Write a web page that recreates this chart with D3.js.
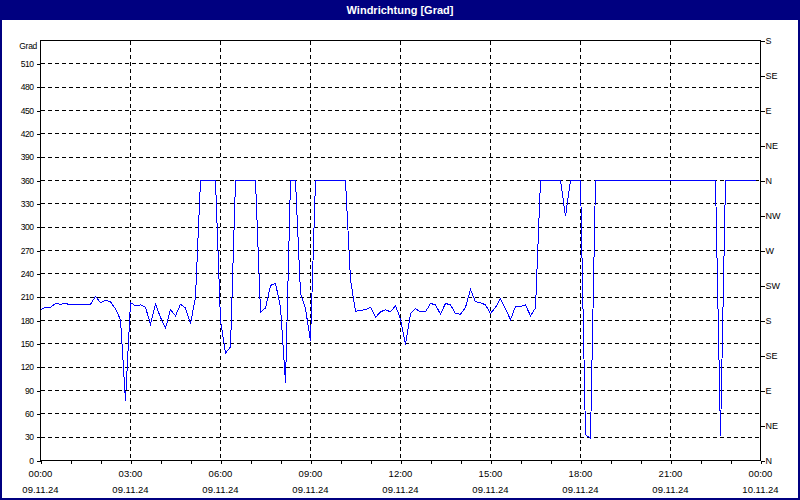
<!DOCTYPE html>
<html>
<head>
<meta charset="utf-8">
<script src="https://cdn.jsdelivr.net/npm/d3@7"></script>
<style>
  html, body { margin: 0; padding: 0; background: #ffffff; }
  svg { display: block; }
  text { font-family: "Liberation Sans", Arial, sans-serif; fill: #000; }
</style>
</head>
<body>
<svg id="chart" width="800" height="500"></svg>
<script>
// ---- data ----
const title = "Windrichtung [Grad]";
const yUnit = "Grad";
const times = ["00:00","00:10","00:20","00:30","00:40","00:50","01:00","01:10","01:20","01:30","01:40","01:50",
  "02:00","02:10","02:20","02:30","02:40","02:50","03:00","03:10","03:20","03:30","03:40","03:50",
  "04:00","04:10","04:20","04:30","04:40","04:50","05:00","05:10","05:20","05:50",
  "06:00","06:10","06:20","06:30","07:10","07:20","07:30","07:40","07:50",
  "08:00","08:10","08:20","08:30","08:40","08:50","09:00","09:10","10:10","10:20","10:30","10:40","10:50",
  "11:00","11:10","11:20","11:30","11:40","11:50","12:00","12:10","12:20","12:30","12:40","12:50",
  "13:00","13:10","13:20","13:30","13:40","13:50","14:00","14:10","14:20","14:30","14:40","14:50",
  "15:00","15:10","15:20","15:30","15:40","15:50","16:00","16:10","16:20","16:30","16:40","17:20","17:30",
  "17:40","18:00","18:10","18:20","18:30","22:30","22:40","22:50","23:50"];
const direction = [194,197,197,202,201,202,200,201,201,201,201,211,
  203,206,204,195,181,77,203,199,200,197,175,201,
  184,170,194,186,201,196,176,210,360,360,
  180,138,146,360,360,191,196,225,228,
  197,100,360,360,215,195,154,360,360,232,192,193,194,
  197,184,191,194,191,199,182,149,189,195,191,191,
  202,200,188,202,200,189,188,197,220,204,203,200,
  189,197,208,195,181,198,198,200,186,196,360,360,314,
  360,360,33,29,360,360,32,360,360];
const yTicks = [0,30,60,90,120,150,180,210,240,270,300,330,360,390,420,450,480,510];
const compassTicks = [0,45,90,135,180,225,270,315,360,405,450,495,540];
const compassLabels = ["N","NE","E","SE","S","SW","W","NW","N","NE","E","SE","S"];
const hourTicks = ["00:00","01:00","02:00","03:00","04:00","05:00","06:00","07:00","08:00","09:00","10:00","11:00",
  "12:00","13:00","14:00","15:00","16:00","17:00","18:00","19:00","20:00","21:00","22:00","23:00","24:00"];
const labelTimes = ["00:00","03:00","06:00","09:00","12:00","15:00","18:00","21:00","24:00"];
const labelTimeText = ["00:00","03:00","06:00","09:00","12:00","15:00","18:00","21:00","00:00"];
const labelDates = ["09.11.24","09.11.24","09.11.24","09.11.24","09.11.24","09.11.24","09.11.24","09.11.24","10.11.24"];

// ---- drawing ----
(function () {
const toMin = s => { const [h, m] = s.split(":").map(Number); return h * 60 + m; };
const svg = d3.select("#chart");
const W = 800, H = 500;
const pL = 40.5, pR = 760.5, pT = 40.5, pB = 460.5;
const navy = "#000080";

svg.append("rect").attr("x", 0).attr("y", 0).attr("width", W).attr("height", H).attr("fill", "#ffffff");
// title bar
svg.append("rect").attr("x", 0).attr("y", 0).attr("width", W).attr("height", 20).attr("fill", navy);
svg.append("text").attr("x", W / 2).attr("y", 14).attr("text-anchor", "middle")
  .style("fill", "#ffffff").style("font-size", "11px").style("font-weight", "bold").text(title);
// window frame
svg.append("rect").attr("x", 1).attr("y", 1).attr("width", W - 2).attr("height", H - 2)
  .attr("fill", "none").attr("stroke", navy).attr("stroke-width", 2);

const x = d3.scaleLinear().domain([0, 1440]).range([pL, pR]);
const y = d3.scaleLinear().domain([0, 540]).range([pB, pT]);

// grid
const grid = svg.append("g").attr("shape-rendering", "crispEdges")
  .attr("stroke", "#000").attr("stroke-dasharray", "4,3").attr("stroke-width", 1);
grid.selectAll("line.h").data(yTicks.filter(v => v > 0)).join("line").attr("class", "h")
  .attr("x1", pL).attr("x2", pR).attr("y1", d => y(d)).attr("y2", d => y(d));
grid.selectAll("line.v").data(labelTimes.slice(1, -1)).join("line").attr("class", "v")
  .attr("y1", pT).attr("y2", pB).attr("x1", d => x(toMin(d))).attr("x2", d => x(toMin(d)));

// line
const line = d3.line().x((d, i) => x(toMin(times[i]))).y(d => y(d));
svg.append("path").datum(direction).attr("d", line)
  .attr("fill", "none").attr("stroke", "#0000ff").attr("stroke-width", 1)
  .attr("shape-rendering", "crispEdges");

// frame
svg.append("rect").attr("x", pL).attr("y", pT).attr("width", pR - pL).attr("height", pB - pT)
  .attr("fill", "none").attr("stroke", "#000").attr("shape-rendering", "crispEdges");

// left axis
const gl = svg.append("g").attr("transform", `translate(${pL},0)`)
  .call(d3.axisLeft(y).tickValues(yTicks).tickSize(4).tickSizeOuter(0).tickPadding(3));
gl.select(".domain").remove();
gl.selectAll("line").attr("shape-rendering", "crispEdges");
gl.selectAll("text").style("font-size", "8.5px").style("letter-spacing", "-0.5px").attr("fill", "#000");
svg.append("text").attr("x", 37).attr("y", 48.5).attr("text-anchor", "end").style("font-size", "8.5px")
  .style("letter-spacing", "-0.3px").text(yUnit);

// right axis
const gr = svg.append("g").attr("transform", `translate(${pR},0)`)
  .call(d3.axisRight(y).tickValues(compassTicks).tickFormat((d, i) => compassLabels[i])
    .tickSize(4).tickSizeOuter(0).tickPadding(1));
gr.select(".domain").remove();
gr.selectAll("line").attr("shape-rendering", "crispEdges");
gr.selectAll("text").style("font-size", "9px").attr("fill", "#000");

// bottom axis
const gb = svg.append("g").attr("transform", `translate(0,${pB})`)
  .call(d3.axisBottom(x).tickValues(hourTicks.map(toMin)).tickFormat("").tickSize(3).tickSizeOuter(0));
gb.select(".domain").remove();
gb.selectAll("line").attr("shape-rendering", "crispEdges");
svg.append("g").selectAll("text").data(labelTimes).join("text")
  .attr("x", d => x(toMin(d))).attr("y", 477).attr("text-anchor", "middle")
  .style("font-size", "9.5px").text((d, i) => labelTimeText[i]);
svg.append("g").selectAll("text").data(labelTimes).join("text")
  .attr("x", d => x(toMin(d))).attr("y", 493).attr("text-anchor", "middle")
  .style("font-size", "9.5px").text((d, i) => labelDates[i]);
})();
</script>
</body>
</html>
